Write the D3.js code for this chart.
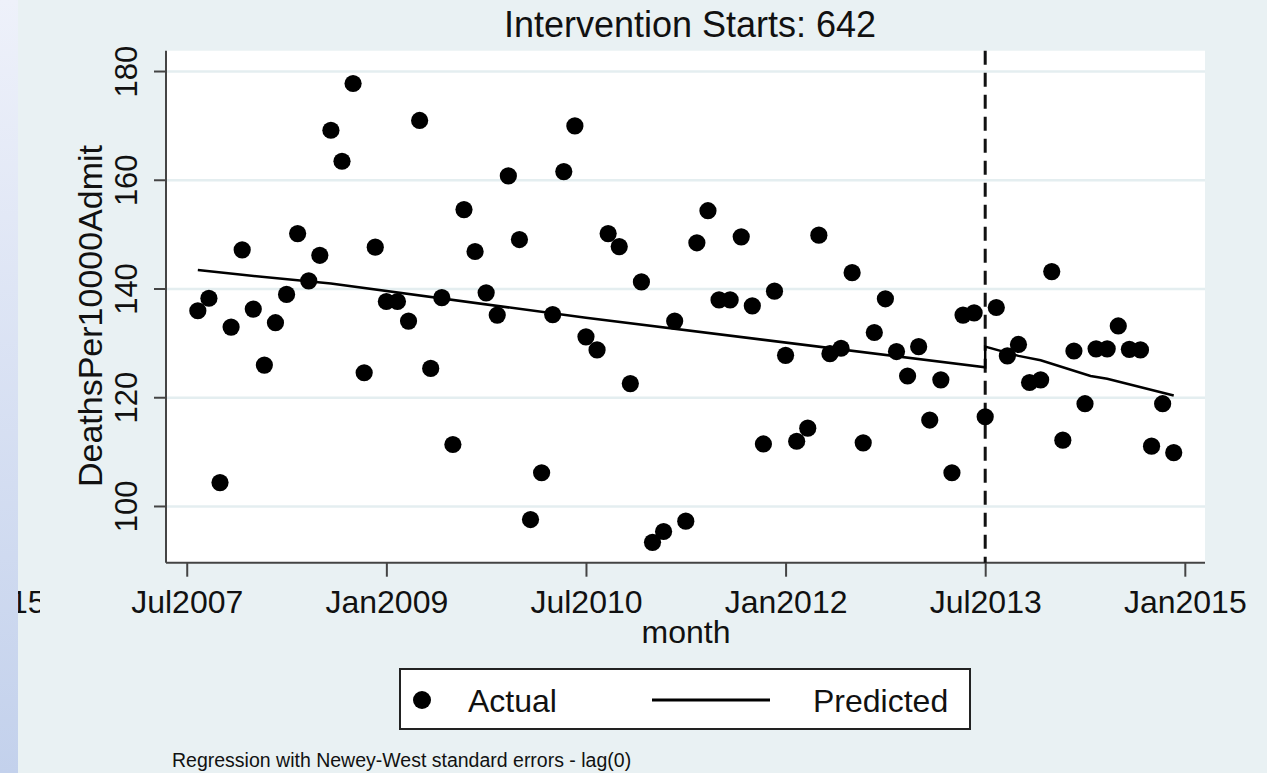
<!DOCTYPE html>
<html>
<head>
<meta charset="utf-8">
<script src="https://cdn.jsdelivr.net/npm/d3@7"></script>
<style>
  html, body { margin: 0; padding: 0; background: #e9f1f3; }
  svg { display: block; font-family: "Liberation Sans", Arial, sans-serif; }
</style>
</head>
<body>
<svg id="chart" width="1267" height="773"></svg>
<script>
// ---- Data (Stata monthly dates: 2007m8 = 571 ... 2014m12 = 659) ----
const startMonth = 571;
const actual = [
  136.0, 138.3, 104.4, 133.0, 147.2, 136.3, 126.0, 133.8, 139.0, 150.2,
  141.5, 146.2, 169.2, 163.5, 177.8, 124.6, 147.7, 137.7, 137.7, 134.1,
  171.0, 125.4, 138.4, 111.4, 154.6, 146.9, 139.3, 135.2, 160.8, 149.1,
  97.6, 106.2, 135.3, 161.6, 170.0, 131.2, 128.8, 150.2, 147.8, 122.6,
  141.3, 93.4, 95.4, 134.1, 97.3, 148.5, 154.4, 138.0, 138.0, 149.6,
  136.9, 111.5, 139.6, 127.8, 112.0, 114.4, 149.9, 128.1, 129.1, 143.0,
  111.7, 132.0, 138.2, 128.5, 124.0, 129.4, 115.9, 123.3, 106.2, 135.2,
  135.6, 116.5, 136.6, 127.7, 129.8, 122.8, 123.3, 143.2, 112.2, 128.6,
  118.9, 129.0, 129.0, 133.2, 128.9, 128.8, 111.1, 118.9, 109.9
];
// Predicted line vertices (month, value)
const predMonths = [571, 575, 583, 606, 642, 642, 645, 647, 651.5, 653, 659];
const predValues = [143.5, 142.6, 141.0, 134.7, 125.6, 129.4, 127.7, 126.9, 124.0, 123.5, 120.4];
const interventionMonth = 642;
const xTickMonths = [570, 588, 606, 624, 642, 660];
const xTickLabels = ["Jul2007", "Jan2009", "Jul2010", "Jan2012", "Jul2013", "Jan2015"];
const yTicks = [100, 120, 140, 160, 180];
const titleText = "Intervention Starts: 642";
const yLabel = "DeathsPer10000Admit";
const xLabel = "month";
const legendLabels = ["Actual", "Predicted"];
const noteText = "Regression with Newey-West standard errors - lag(0)";

// ---- Layout ----
const svg = d3.select("#chart");
const L = 166, R = 1205, T = 50.7, B = 562.7;
const x = d3.scaleLinear().domain([568.13, 661.82]).range([L, R]);
const y = d3.scaleLinear().domain([89.66, 183.83]).range([B, T]);
const ink = "#111";

// Remnant text at far left, then left strip
const defs = svg.append("defs");
defs.append("clipPath").attr("id", "remClip").append("rect")
  .attr("x", 18).attr("y", 570).attr("width", 22).attr("height", 60);
svg.append("text").attr("x", 10).attr("y", 613)
  .attr("clip-path", "url(#remClip)")
  .attr("font-size", 32).attr("fill", ink).text("15");

const grad = defs.append("linearGradient").attr("id", "strip")
  .attr("x1", 0).attr("y1", 0).attr("x2", 0).attr("y2", 1);
grad.append("stop").attr("offset", "0%").attr("stop-color", "#eef1fa");
grad.append("stop").attr("offset", "100%").attr("stop-color", "#c3d1ec");
svg.append("rect").attr("x", 0).attr("y", 0).attr("width", 18).attr("height", 773)
  .attr("fill", "url(#strip)");

// Plot region
svg.append("rect").attr("x", L).attr("y", T).attr("width", R - L).attr("height", B - T)
  .attr("fill", "#ffffff");

// Gridlines
svg.append("g").selectAll("line").data(yTicks).join("line")
  .attr("x1", L).attr("x2", R)
  .attr("y1", d => y(d)).attr("y2", d => y(d))
  .attr("stroke", "#e4eef0").attr("stroke-width", 2.5);

// Axes
const yAxis = d3.axisLeft(y).tickValues(yTicks).tickSize(12).tickPadding(4).tickFormat(d3.format("d"));
const gy = svg.append("g").attr("transform", `translate(${L},0)`).call(yAxis);
gy.select(".domain").attr("stroke", "#444").attr("stroke-width", 2)
  .attr("d", `M0,${T}V${B}`);
gy.selectAll(".tick line").attr("stroke", "#444").attr("stroke-width", 2);
gy.selectAll(".tick text")
  .attr("font-size", 31).attr("fill", ink)
  .attr("font-family", "'Liberation Sans', Arial, sans-serif")
  .attr("text-anchor", "middle")
  .attr("transform", function(d) { return `translate(-29,${y(d)}) rotate(-90)`; })
  .attr("x", 0).attr("y", 0).attr("dy", 0);
gy.selectAll(".tick").attr("transform", null);
gy.selectAll(".tick line").attr("transform", d => `translate(0,${y(d)})`);

const xAxis = d3.axisBottom(x).tickValues(xTickMonths).tickSize(14).tickPadding(8)
  .tickFormat((d, i) => xTickLabels[i]);
const gx = svg.append("g").attr("transform", `translate(0,${B})`).call(xAxis);
gx.select(".domain").attr("stroke", "#444").attr("stroke-width", 2)
  .attr("d", `M${L},0H${R}`);
gx.selectAll(".tick line").attr("stroke", "#444").attr("stroke-width", 2);
gx.selectAll(".tick text").attr("font-size", 32).attr("fill", ink)
  .attr("font-family", "'Liberation Sans', Arial, sans-serif")
  .attr("dy", 0).attr("y", 50);

// Intervention line
svg.append("line")
  .attr("x1", x(interventionMonth)).attr("x2", x(interventionMonth))
  .attr("y1", T).attr("y2", B)
  .attr("stroke", "#111").attr("stroke-width", 3)
  .attr("stroke-dasharray", "14,8");

// Predicted line
const predPts = predMonths.map((m, i) => [m, predValues[i]]);
svg.append("path").datum(predPts)
  .attr("d", d3.line().x(d => x(d[0])).y(d => y(d[1])))
  .attr("fill", "none").attr("stroke", "#000").attr("stroke-width", 2.5);

// Actual points
svg.append("g").selectAll("circle").data(actual).join("circle")
  .attr("cx", (d, i) => x(startMonth + i))
  .attr("cy", d => y(d))
  .attr("r", 8.6).attr("fill", "#000");

// Title and axis labels
svg.append("text").attr("x", 690).attr("y", 37).attr("text-anchor", "middle")
  .attr("font-size", 36).attr("fill", ink).text(titleText);
svg.append("text").attr("transform", "translate(102,316) rotate(-90)")
  .attr("text-anchor", "middle").attr("font-size", 34).attr("fill", ink).text(yLabel);
svg.append("text").attr("x", 686).attr("y", 643).attr("text-anchor", "middle")
  .attr("font-size", 32).attr("fill", ink).text(xLabel);

// Legend
const lg = svg.append("g");
lg.append("rect").attr("x", 400).attr("y", 669).attr("width", 570).attr("height", 60)
  .attr("fill", "#fff").attr("stroke", "#222").attr("stroke-width", 2);
lg.append("circle").attr("cx", 422).attr("cy", 700).attr("r", 9).attr("fill", "#000");
lg.append("text").attr("x", 468).attr("y", 712).attr("font-size", 32).attr("fill", ink).text(legendLabels[0]);
lg.append("line").attr("x1", 652).attr("x2", 770).attr("y1", 700).attr("y2", 700)
  .attr("stroke", "#000").attr("stroke-width", 3);
lg.append("text").attr("x", 813).attr("y", 712).attr("font-size", 32).attr("fill", ink).text(legendLabels[1]);

// Note
svg.append("text").attr("x", 172).attr("y", 767).attr("font-size", 19.5).attr("fill", ink).text(noteText);
</script>
</body>
</html>
